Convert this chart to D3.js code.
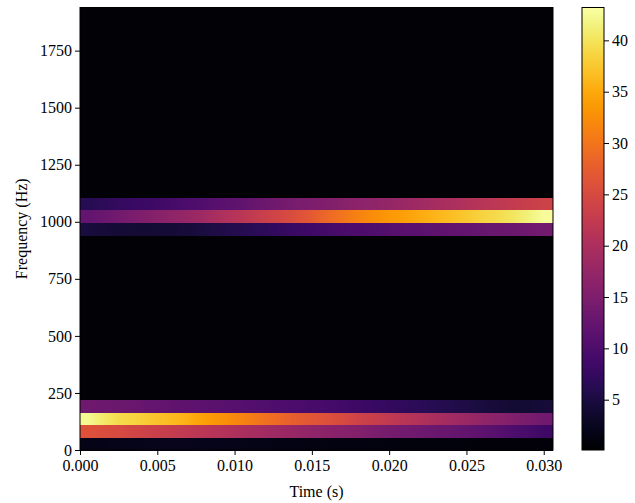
<!DOCTYPE html>
<html>
<head>
<meta charset="utf-8">
<script src="https://cdn.jsdelivr.net/npm/d3@7"></script>
<style>
  html, body { margin: 0; padding: 0; background: #ffffff; }
  svg text { font-family: "Liberation Serif", "Times New Roman", serif; fill: #000; }
</style>
</head>
<body>
<svg id="chart" width="635" height="503"></svg>
<script>
// ---------------- data ----------------
const timeMax = 0.0306;           // s, right edge of the last time bin
const freqBinHz = 55.4;           // height of one frequency bin
const freqBinCount = 35;          // number of frequency bins
const quietLevel = 0.5;           // background power in bins without a tone
const colorMin = 0.1;
const colorMax = 43.2;

const xTicks = [0, 0.005, 0.010, 0.015, 0.020, 0.025, 0.030];
const yTicks = [0, 250, 500, 750, 1000, 1250, 1500, 1750];
const cbTicks = [5, 10, 15, 20, 25, 30, 35, 40];

// low tone (decaying) – bins 0..3
const lowBin0 = [1.8,1.9,2.0,2.1,2.2,2.3,2.3,2.2,2.1,2.0,1.9,1.8,1.7,1.7,1.6,1.5,1.4,1.4,1.3,1.2,1.2,1.1,1.1,1.0,1.0,0.9,0.9,0.9,0.8,0.8];
const lowBin1 = [26.0,25.5,24.9,24.2,23.6,23.0,22.3,21.7,21.0,20.4,19.7,19.1,18.4,17.8,17.1,16.5,16.0,15.6,15.0,14.3,13.9,13.5,13.0,12.6,12.2,11.5,10.9,10.0,9.2,8.3];
const lowBin2 = [42.3,40.6,39.3,38.5,37.6,36.7,35.9,34.6,33.3,32.4,31.1,29.8,28.8,27.7,26.8,26.0,25.1,24.0,23.2,22.3,21.4,20.6,19.7,18.8,18.0,17.1,16.3,15.4,14.5,13.7];
const lowBin3 = [13.5,13.2,13.0,12.8,12.4,12.2,11.7,11.5,11.3,10.9,10.7,10.4,10.0,9.8,9.4,9.2,8.7,8.3,7.9,7.4,7.0,6.6,6.1,5.7,5.3,4.8,4.4,4.0,4.0,4.4];

// high tone (growing) – bins 17..19
const highBin17 = [4.8,4.4,4.2,4.0,4.0,4.2,4.4,4.8,5.3,5.7,6.1,6.8,7.2,7.9,8.5,8.9,9.4,9.8,10.2,10.7,11.1,11.3,11.7,12.0,12.2,12.6,12.8,13.0,13.5,13.9];
const highBin18 = [12.2,13.0,13.9,14.8,15.6,16.5,17.3,18.2,19.5,20.8,21.7,23.0,24.2,25.5,26.8,28.5,29.8,31.1,32.4,33.3,34.1,35.0,35.9,36.7,37.6,38.5,39.3,40.2,41.5,42.8];
const highBin19 = [6.1,6.8,7.4,7.9,8.3,8.9,9.6,10.2,10.9,11.5,12.2,13.0,13.7,14.3,14.8,15.2,15.8,16.5,16.9,17.3,18.0,18.6,19.3,19.9,20.6,21.2,21.9,22.5,23.2,23.8];

const toneBins = [0, 1, 2, 3, 17, 18, 19];
const toneRows = [lowBin0, lowBin1, lowBin2, lowBin3, highBin17, highBin18, highBin19];

// ---------------- layout ----------------
const plot = { left: 80, right: 553, top: 7.5, bottom: 450 };
const cb = { left: 582, right: 604, top: 7.5, bottom: 450 };
const font = 16;

const svg = d3.select("#chart");
const defs = svg.append("defs");
const nT = lowBin2.length;
const dt = timeMax / nT;

const x = d3.scaleLinear().domain([0, timeMax]).range([plot.left, plot.right]);
const y = d3.scaleLinear().domain([0, freqBinHz * freqBinCount]).range([plot.bottom, plot.top]);
const color = d3.scaleSequential(d3.interpolateInferno).domain([colorMin, colorMax]).clamp(true);

// one row per frequency bin; tone rows are shaded through their time bins
const rows = d3.range(freqBinCount).map(f => {
  const idx = toneBins.indexOf(f);
  return { f, values: idx >= 0 ? toneRows[idx] : null };
});

rows.forEach(r => {
  if (!r.values) return;
  const g = defs.append("linearGradient")
    .attr("id", "row" + r.f)
    .attr("gradientUnits", "userSpaceOnUse")
    .attr("x1", x(0)).attr("x2", x(timeMax)).attr("y1", 0).attr("y2", 0);
  g.append("stop").attr("offset", 0).attr("stop-color", color(r.values[0]));
  r.values.forEach((v, t) => {
    g.append("stop")
      .attr("offset", (x((t + 0.5) * dt) - x(0)) / (x(timeMax) - x(0)))
      .attr("stop-color", color(v));
  });
  g.append("stop").attr("offset", 1).attr("stop-color", color(r.values[nT - 1]));
});

svg.append("g")
  .attr("shape-rendering", "crispEdges")
  .selectAll("rect")
  .data(rows)
  .join("rect")
  .attr("x", x(0))
  .attr("width", x(timeMax) - x(0))
  .attr("y", d => y((d.f + 1) * freqBinHz))
  .attr("height", d => y(d.f * freqBinHz) - y((d.f + 1) * freqBinHz) + 0.6)
  .attr("fill", d => d.values ? `url(#row${d.f})` : color(quietLevel));

// axes
const xAxis = d3.axisBottom(x).tickValues(xTicks).tickFormat(d3.format(".3f")).tickSizeOuter(0).tickSize(5).tickPadding(5);
const yAxis = d3.axisLeft(y).tickValues(yTicks).tickFormat(d3.format("d")).tickSizeOuter(0).tickSize(5).tickPadding(3);

const gx = svg.append("g").attr("transform", `translate(0,${plot.bottom})`).call(xAxis);
const gy = svg.append("g").attr("transform", `translate(${plot.left},0)`).call(yAxis);
[gx, gy].forEach(g => {
  g.select(".domain").remove();
  g.selectAll(".tick line").attr("stroke", "#000").attr("stroke-width", 1);
  g.selectAll(".tick text").attr("font-size", font).attr("font-family", "Liberation Serif");
});

// frame
svg.append("rect")
  .attr("x", plot.left).attr("y", plot.top)
  .attr("width", plot.right - plot.left).attr("height", plot.bottom - plot.top)
  .attr("fill", "none").attr("stroke", "#000").attr("stroke-width", 1);

// axis labels
svg.append("text")
  .attr("x", (plot.left + plot.right) / 2).attr("y", 497)
  .attr("text-anchor", "middle").attr("font-size", font)
  .text("Time (s)");
svg.append("text")
  .attr("transform", `translate(27,${(plot.top + plot.bottom) / 2}) rotate(-90)`)
  .attr("text-anchor", "middle").attr("font-size", font)
  .text("Frequency (Hz)");

// colorbar
const grad = defs.append("linearGradient").attr("id", "cbgrad")
  .attr("x1", 0).attr("y1", 1).attr("x2", 0).attr("y2", 0);
d3.range(0, 1.0001, 0.02).forEach(s => {
  grad.append("stop").attr("offset", s).attr("stop-color", d3.interpolateInferno(s));
});
const cy = d3.scaleLinear().domain([colorMin, colorMax]).range([cb.bottom, cb.top]);
svg.append("rect")
  .attr("x", cb.left).attr("y", cb.top)
  .attr("width", cb.right - cb.left).attr("height", cb.bottom - cb.top)
  .attr("fill", "url(#cbgrad)").attr("stroke", "#000").attr("stroke-width", 1);
const cAxis = d3.axisRight(cy).tickValues(cbTicks).tickFormat(d3.format("d")).tickSizeOuter(0).tickSize(5).tickPadding(3);
const gc = svg.append("g").attr("transform", `translate(${cb.right},0)`).call(cAxis);
gc.select(".domain").remove();
gc.selectAll(".tick line").attr("stroke", "#000");
gc.selectAll(".tick text").attr("font-size", font).attr("font-family", "Liberation Serif");
</script>
</body>
</html>
